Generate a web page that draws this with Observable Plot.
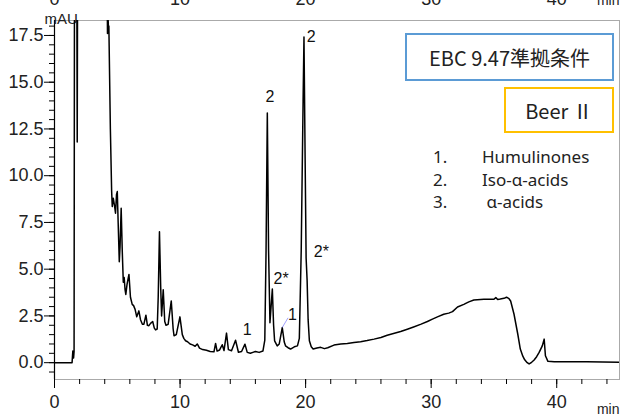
<!DOCTYPE html>
<html>
<head>
<meta charset="utf-8">
<script src="https://cdn.jsdelivr.net/npm/d3@7"></script>
<script src="https://cdn.jsdelivr.net/npm/@observablehq/plot@0.6"></script>
<style>
  html, body { margin: 0; padding: 0; background: white; }
  #wrap { position: relative; width: 624px; height: 414px; overflow: hidden; }
  .box { position: absolute; box-sizing: border-box; display: flex; align-items: center; justify-content: center;
         font-family: "Noto Sans CJK JP", "Noto Sans", sans-serif; font-size: 20px; color: #222; background: white; }
  #list { position: absolute; left: 433px; top: 146px; font-family: "Noto Sans", sans-serif; font-size: 17px; line-height: 22.5px; color: #222; }
  #list .row { display: flex; }
  #list .num { width: 49px; }
</style>
</head>
<body>
<div id="wrap"></div>
<script>
// Retention time (min) and absorbance (mAU)
const time = [
  0.0, 1.40, 1.46, 1.52, 1.56, 1.62, 1.70, 1.81, 1.90, 3.0, 4.15, 4.22, 4.26, 4.30, 4.33, 4.45, 4.55, 4.60,
  4.68, 4.78, 4.86, 4.94, 5.00, 5.07, 5.16, 5.22, 5.31, 5.40, 5.48, 5.55, 5.62, 5.68, 5.78, 5.93, 6.05,
  6.19, 6.30, 6.42, 6.55, 6.72, 6.85, 7.00, 7.12, 7.28, 7.40, 7.52, 7.65, 7.82, 7.95, 8.05, 8.18, 8.26,
  8.36, 8.46, 8.53, 8.66, 8.78, 8.88, 9.05, 9.30, 9.45, 9.52, 9.70, 9.99, 10.18, 10.30, 10.44, 10.6,
  10.8, 11.0, 11.2, 11.37, 11.55, 11.8, 12.1, 12.4, 12.7, 12.83, 12.95, 13.15, 13.36, 13.5, 13.7, 13.85,
  14.1, 14.42, 14.65, 14.9, 15.17, 15.35, 15.6, 15.8, 16.0, 16.3, 16.6, 16.75, 16.85, 16.95, 17.05, 17.16,
  17.25, 17.35, 17.45, 17.53, 17.74, 17.9, 18.14, 18.3, 18.4, 18.6, 18.8, 19.1, 19.35, 19.5, 19.65, 19.80,
  19.87, 19.96, 20.04, 20.08, 20.12, 20.2, 20.3, 20.45, 20.6, 20.9, 21.2, 21.5, 21.76, 22.26, 22.8, 23.32, 23.85,
  24.38, 24.9, 25.45, 26.0, 26.5, 27.0, 27.57, 28.1, 28.6, 29.2, 29.7, 30.1, 30.5, 31.0, 31.4, 31.7, 32.1,
  32.6, 33.0, 33.4, 34.2, 35.0, 35.15, 35.3, 35.5, 35.8, 36.0, 36.2, 36.33, 36.6, 36.9, 37.1, 37.3, 37.45,
  37.65, 37.8, 38.0, 38.2, 38.4, 38.6, 38.85, 39.0, 39.1, 39.3, 39.8, 42.4, 45.0
];
const absorbance = [
  0.0, 0.0, 0.62, 0.25, 0.6, 40, 40, 11.8, 40, 40, 25, 17.6, 18.6, 17.8, 18.0, 12.5, 9.2, 8.35,
  8.8, 8.4, 7.99, 9.0, 9.15, 7.5, 5.4, 6.2, 8.26, 5.9, 4.3, 4.55, 3.9, 3.65, 4.2, 4.72, 3.5,
  3.12, 3.05, 2.85, 2.45, 2.77, 2.3, 2.05, 2.06, 2.54, 2.0, 1.98, 2.1, 2.2, 1.85, 1.75, 1.8, 3.5,
  7.0, 4.0, 2.5, 3.9, 2.2, 2.0, 2.05, 3.3, 1.8, 1.44, 1.5, 2.45, 1.5, 1.3, 1.17, 1.12,
  1.0, 0.95, 0.88, 1.0, 0.78, 0.7, 0.66, 0.6, 0.58, 1.03, 0.62, 0.68, 0.96, 0.65, 1.58, 0.7,
  0.64, 1.2, 0.56, 0.6, 0.99, 0.55, 0.5, 0.55, 0.6, 0.55, 0.62, 1.2, 6.0, 13.35, 6.0, 2.14,
  3.0, 3.94, 2.0, 1.17, 0.9, 1.0, 1.88, 1.1, 0.9, 0.8, 0.73, 0.85, 0.9, 1.3, 6.0, 14.0,
  17.42, 11.0, 5.6, 5.0, 4.4, 2.3, 1.17, 0.85, 0.73, 0.78, 0.82, 0.75, 0.8, 0.94, 1.0, 1.03, 1.08,
  1.12, 1.18, 1.26, 1.35, 1.47, 1.56, 1.67, 1.79, 1.91, 2.06, 2.2, 2.33, 2.45, 2.59, 2.65, 2.73, 2.98,
  3.12, 3.25, 3.35, 3.39, 3.39, 3.48, 3.38, 3.4, 3.44, 3.5, 3.42, 3.3, 2.59, 1.52, 0.73, 0.35, 0.15,
  0.0, -0.07, 0.02, 0.14, 0.32, 0.55, 0.9, 1.26, 0.37, 0.07, 0.05, 0.05, 0.02
];

const xMajor = [0, 10, 20, 30, 40];
const xMinor = d3.range(0, 46, 2);
const yMajor = [0, 2.5, 5, 7.5, 10, 12.5, 15, 17.5];
const yMinor = d3.range(-0.5, 18.01, 0.5);

// Peak annotations
const peakText = ["2", "2", "2*", "2*", "1", "1"];
const peakX = [17.16, 20.45, 18.05, 21.25, 15.35, 18.95];
const peakY = [14.2, 17.45, 4.5, 5.9, 1.75, 2.55];
// Leader line for the second humulinone label
const leader = [{x1: 18.14, y1: 1.88, x2: 18.6, y2: 2.4}];

const trace = time.map((t, i) => ({t, a: absorbance[i]}));
const labels = peakText.map((s, i) => ({s, x: peakX[i], y: peakY[i]}));

const chart = Plot.plot({
  width: 624,
  height: 414,
  marginLeft: 54,
  marginRight: 5,
  marginTop: 20,
  marginBottom: 35,
  x: {domain: [0, 45]},
  y: {domain: [-0.9, 18.3]},
  style: {fontFamily: "'Liberation Sans', Arial, sans-serif", color: "#222", background: "white", overflow: "hidden"},
  marks: [
    Plot.frame({stroke: "#aaa"}),
    Plot.ruleX([0], {stroke: "black", strokeWidth: 1.2}),
    Plot.axisX({ticks: xMinor, tickSize: 5, tickFormat: () => "", stroke: "black"}),
    Plot.axisX({ticks: xMajor, tickSize: 9, tickPadding: 7, fontSize: 18, tickFormat: d => String(d), stroke: "black"}),
    Plot.axisX({anchor: "top", ticks: xMajor, tickSize: 0, tickPadding: 16, fontSize: 18, tickFormat: d => String(d)}),
    Plot.axisY({ticks: yMinor, tickSize: 5, tickFormat: () => "", stroke: "black"}),
    Plot.axisY({ticks: yMajor, tickSize: 10, tickPadding: 1, fontSize: 18, tickFormat: d3.format(".1f"), stroke: "black"}),
    Plot.text(["mAU"], {frameAnchor: "top-left", textAnchor: "start", lineAnchor: "bottom", dx: -10, dy: 3, fontSize: 15}),
    Plot.text(["min"], {frameAnchor: "bottom-right", textAnchor: "end", lineAnchor: "bottom", dy: 34, fontSize: 14}),
    Plot.text(["min"], {frameAnchor: "top-right", textAnchor: "end", lineAnchor: "bottom", dy: -16, fontSize: 14}),
    Plot.line(trace, {x: "t", y: "a", stroke: "black", strokeWidth: 1.5, clip: true}),
    Plot.link(leader, {x1: "x1", y1: "y1", x2: "x2", y2: "y2", stroke: "#8888ff", strokeWidth: 0.8}),
    Plot.text(labels, {x: "x", y: "y", text: "s", fontSize: 16, fill: "#111"})
  ]
});

const wrap = document.getElementById("wrap");
wrap.appendChild(chart);

const b1 = document.createElement("div");
b1.className = "box";
Object.assign(b1.style, {left: "405px", top: "33px", width: "209px", height: "48px", border: "2.5px solid #5b9bd5"});
b1.textContent = "EBC 9.47準拠条件";
wrap.appendChild(b1);

const b2 = document.createElement("div");
b2.className = "box";
Object.assign(b2.style, {left: "504px", top: "87px", width: "110px", height: "46px", border: "2.5px solid #ffc000"});
b2.textContent = "Beer Ⅱ";
wrap.appendChild(b2);

const listItems = [["1.", "Humulinones"], ["2.", "Iso-α-acids"], ["3.", "\u00a0α-acids"]];
const list = document.createElement("div");
list.id = "list";
for (const [n, s] of listItems) {
  const r = document.createElement("div");
  r.className = "row";
  const a = document.createElement("span"); a.className = "num"; a.textContent = n;
  const b = document.createElement("span"); b.textContent = s;
  r.appendChild(a); r.appendChild(b);
  list.appendChild(r);
}
wrap.appendChild(list);
</script>
</body>
</html>
